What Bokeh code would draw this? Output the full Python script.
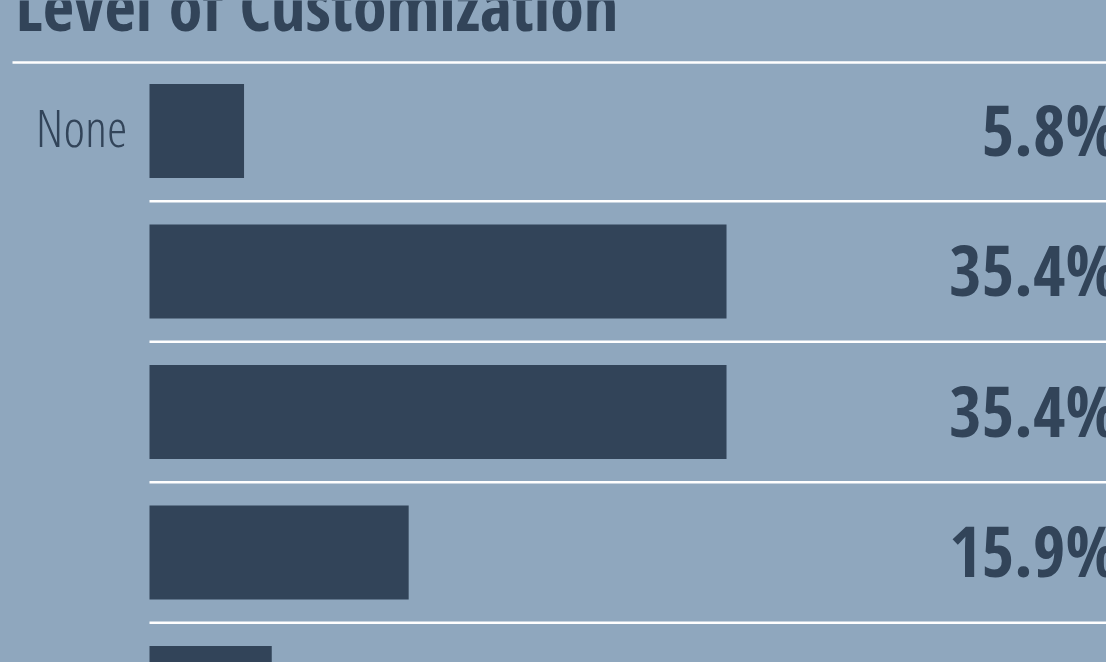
from bokeh.plotting import figure
from bokeh.embed import file_html
from bokeh.resources import INLINE
from bokeh.core.properties import value
from bokeh.models import Range1d, Label, ColumnDataSource

# ---- data ----
title = "Level of Customization"
categories = ["None", "", "", "", ""]
values = [5.8, 35.4, 35.4, 15.9, 7.5]
value_labels = ["5.8%", "35.4%", "35.4%", "15.9%", "7.5%"]

# ---- style / layout ----
W, H = 1106, 662
BG = "#8fa7be"
BAR = "#324459"
BOLD = "Open Sans Condensed"
LIGHT = "Open Sans Condensed Light"

px_per_pct = 16.3
bar_left = 149
row_pitch = 140.5
row0_center = 130.5
BASE_SHIFT = 0.42  # empirical baseline shift of svg text (em)

rows = list(range(len(values)))

p = figure(width=W, height=H, output_backend="svg", toolbar_location=None,
           x_range=Range1d(-bar_left / px_per_pct, (W - bar_left) / px_per_pct),
           y_range=Range1d((H - row0_center) / row_pitch, -row0_center / row_pitch),
           min_border=0, outline_line_color=None,
           background_fill_color=BG, border_fill_color=BG)
p.axis.visible = False
p.grid.visible = False

src = ColumnDataSource(dict(y=rows, v=values, cat=categories, lab=value_labels,
                            sep=[r + 0.5 for r in rows]))

# bars
p.hbar(y="y", left=0, right="v", height=94 / row_pitch, source=src,
       fill_color=BAR, line_color=None)

# separators between rows
p.segment(x0=0, x1=p.x_range.end, y0="sep", y1="sep", source=src,
          line_color="white", line_width=2.5)
# rule under title
p.segment(x0=[(12 - bar_left) / px_per_pct], x1=[p.x_range.end],
          y0=[(62 - row0_center) / row_pitch], y1=[(62 - row0_center) / row_pitch],
          line_color="white", line_width=2.5)

# category labels
cat_size = 52
p.text(x=0, y="y", text="cat", source=src, x_offset=-22, y_offset=17.5 - BASE_SHIFT * cat_size,
       text_align="right", text_baseline="alphabetic",
       text_font=value(LIGHT), text_font_size=f"{cat_size}px", text_color=BAR)

# value labels
val_size = 70
p.text(x=(1118 - bar_left) / px_per_pct, y="y", text="lab", source=src,
       y_offset=27 - BASE_SHIFT * val_size,
       text_align="right", text_baseline="alphabetic",
       text_font=value(BOLD), text_font_size=f"{val_size}px", text_font_style="bold", text_color=BAR)

# title
title_size = 68
p.add_layout(Label(x=15, y=H - (33 - BASE_SHIFT * title_size), x_units="screen", y_units="screen",
                   text=title, text_align="left", text_baseline="alphabetic",
                   text_font=BOLD, text_font_size=f"{title_size}px", text_font_style="bold",
                   text_color=BAR))

html = file_html(p, INLINE)
html = html.replace("</head>", "<style>html,body{margin:0;padding:0;background:%s;overflow:hidden;}</style></head>" % BG, 1)
open("out.html", "w").write(html)
